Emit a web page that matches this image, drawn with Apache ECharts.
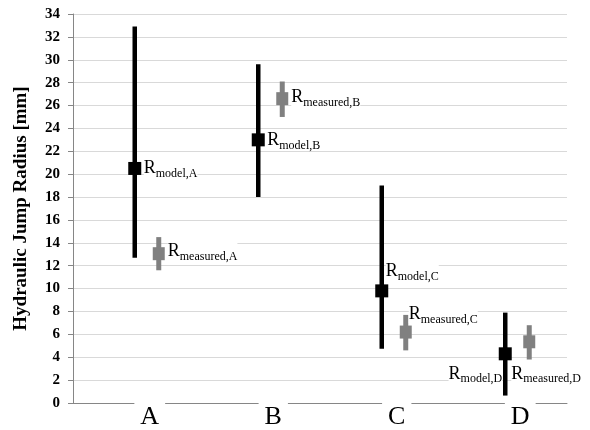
<!DOCTYPE html>
<html>
<head>
<meta charset="utf-8">
<script src="https://cdn.jsdelivr.net/npm/echarts@6/dist/echarts.min.js"></script>
<style>html,body{margin:0;padding:0;background:#fff;}#chart{width:590px;height:430px;}</style>
</head>
<body>
<div id="chart"></div>
<script>
// ---- data ----
const categories = ['A', 'B', 'C', 'D'];
const modelValue = [20.5, 23.0, 9.8, 4.3];
const modelLow = [12.7, 18.0, 4.75, 0.65];
const modelHigh = [32.9, 29.6, 19.0, 7.9];
const measuredValue = [13.05, 26.6, 6.2, 5.35];
const measuredLow = [11.6, 25.0, 4.6, 3.8];
const measuredHigh = [14.5, 28.1, 7.7, 6.8];
const modelSub = ['model,A', 'model,B', 'model,C', 'model,D'];
const measuredSub = ['measured,A', 'measured,B', 'measured,C', 'measured,D'];
const yTicks = [0, 2, 4, 6, 8, 10, 12, 14, 16, 18, 20, 22, 24, 26, 28, 30, 32, 34];
const yAxisTitle = 'Hydraulic Jump Radius [mm]';

// ---- styles (label placement relative to marker, px) ----
const FONT = "'Liberation Serif', 'Times New Roman', serif";
const modelLabelPos = [
  { dx: 9, dy: 0, align: 'left' },
  { dx: 9, dy: 0, align: 'left' },
  { dx: 4, dy: -20, align: 'left' },
  { dx: -3, dy: 20, align: 'right' }
];
const measuredLabelPos = [
  { dx: 9, dy: -2, align: 'left' },
  { dx: 9, dy: -1, align: 'left' },
  { dx: 3, dy: -18, align: 'left' },
  { dx: -18, dy: 32, align: 'left' }
];
const measuredOffsetPx = 24;

const richR = {
  r: { fontFamily: FONT, fontSize: 18, lineHeight: 18, color: '#000' },
  s: { fontFamily: FONT, fontSize: 12, lineHeight: 12, padding: [11, 0, 0, 0], color: '#000' }
};

function makeRender(values, lows, highs, subs, pos, opts) {
  return function (params, api) {
    const i = params.dataIndex;
    const c = api.coord([api.value(0), api.value(1)]);
    const lo = api.coord([api.value(0), api.value(2)]);
    const hi = api.coord([api.value(0), api.value(3)]);
    const x = c[0] + opts.offset;
    const p = pos[i];
    return {
      type: 'group',
      children: [
        { type: 'line', shape: { x1: x, y1: hi[1], x2: x, y2: lo[1] },
          style: { stroke: opts.color, lineWidth: opts.lineWidth } },
        { type: 'rect', shape: { x: x - opts.boxW / 2, y: c[1] - opts.boxH / 2, width: opts.boxW, height: opts.boxH },
          style: { fill: opts.color } },
        { type: 'text', z2: 10,
          style: { x: x + p.dx, y: c[1] + p.dy, text: '{r|R}{s|' + subs[i] + '}', rich: richR,
                   align: p.align, verticalAlign: 'middle', backgroundColor: '#fff' } }
      ]
    };
  };
}

const modelData = categories.map((c, i) => [i, modelValue[i], modelLow[i], modelHigh[i]]);
const measuredData = categories.map((c, i) => [i, measuredValue[i], measuredLow[i], measuredHigh[i]]);

const chart = echarts.init(document.getElementById('chart'), null, { renderer: 'canvas' });
chart.setOption({
  animation: false,
  backgroundColor: '#fff',
  grid: { left: 73, right: 23, top: 14, bottom: 24 },
  xAxis: {
    type: 'category',
    data: categories,
    boundaryGap: true,
    axisLine: { show: true, lineStyle: { color: '#868686', width: 1 } },
    axisTick: { show: false },
    splitLine: { show: false },
    axisLabel: {
      margin: -1,
      formatter: v => '{s|}{t|' + v + '}',
      rich: {
        s: { width: 30 },
        t: { fontFamily: FONT, fontSize: 26, color: '#000', backgroundColor: '#fff', padding: [2, 6, 0, 6] }
      }
    }
  },
  yAxis: {
    type: 'value',
    min: yTicks[0],
    max: yTicks[yTicks.length - 1],
    interval: yTicks[1] - yTicks[0],
    name: yAxisTitle,
    nameLocation: 'middle',
    nameRotate: 90,
    nameGap: 42,
    nameTextStyle: { fontFamily: FONT, fontSize: 19, fontWeight: 'bold', color: '#000' },
    axisLine: { show: true, lineStyle: { color: '#868686', width: 1 } },
    axisTick: { show: true, inside: false, length: 5, lineStyle: { color: '#868686' } },
    axisLabel: { margin: 13, fontFamily: FONT, fontSize: 15, fontWeight: 'bold', color: '#000' },
    splitLine: { show: true, lineStyle: { color: '#d9d9d9', width: 1 } }
  },
  series: [
    {
      type: 'custom', name: 'model', data: modelData,
      encode: { x: 0, y: 1 },
      renderItem: makeRender(modelValue, modelLow, modelHigh, modelSub, modelLabelPos,
        { offset: 0, color: '#000', lineWidth: 4.5, boxW: 13, boxH: 13 }),
      z: 3
    },
    {
      type: 'custom', name: 'measured', data: measuredData,
      encode: { x: 0, y: 1 },
      renderItem: makeRender(measuredValue, measuredLow, measuredHigh, measuredSub, measuredLabelPos,
        { offset: measuredOffsetPx, color: '#808080', lineWidth: 5, boxW: 12, boxH: 13 }),
      z: 2
    }
  ]
});
</script>
</body>
</html>
